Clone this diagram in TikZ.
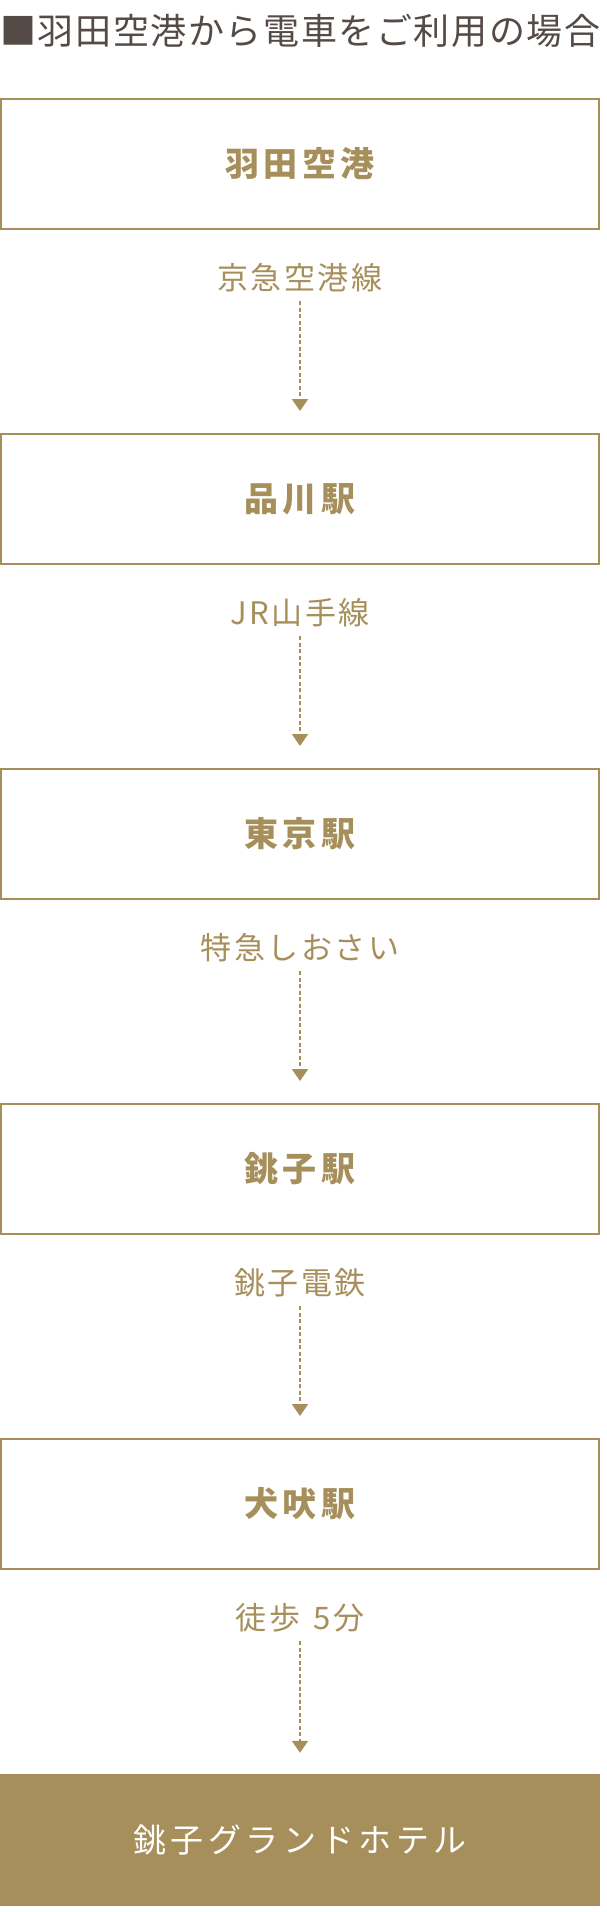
\documentclass[tikz,border=0pt]{standalone}
\usepackage{fontspec}
\usetikzlibrary{arrows.meta}
\newfontfamily\ttlfont{Noto Sans CJK JP}[LetterSpace=4.5]
\newfontfamily\rtefont{Noto Sans CJK JP}[LetterSpace=8]
\newfontfamily\stnfont{Noto Sans CJK JP}[LetterSpace=12]
\newfontfamily\htlfont{Noto Sans CJK JP}[LetterSpace=14]
\definecolor{gold}{RGB}{166,143,91}
\definecolor{ttlcol}{RGB}{84,74,70}
\tikzset{
  stationbox/.style={draw=gold, line width=2pt, minimum width=598pt, minimum height=130pt,
    inner sep=0pt, text=gold, font=\stnfont\bfseries\fontsize{34pt}{34pt}\selectfont,
    text height=29.9pt, text depth=4.1pt},
  hotelbox/.style={fill=gold, draw=none, minimum width=600pt, minimum height=132pt,
    inner sep=0pt, text=white, font=\htlfont\fontsize{33pt}{33pt}\selectfont,
    text height=29pt, text depth=4pt},
  routelabel/.style={inner sep=0pt, text=gold, font=\rtefont\fontsize{31pt}{31pt}\selectfont,
    text height=27.3pt, text depth=3.7pt},
  conn/.style={draw=gold, line width=2pt, dash pattern=on 4pt off 2.5pt,
    -{Triangle[width=16pt,length=12pt]}},
}
\begin{document}
\begin{tikzpicture}[x=1pt,y=-1pt]
\useasboundingbox (0,0) rectangle (606,1912);
\node[anchor=base west, inner sep=0pt, text=ttlcol, font=\ttlfont\fontsize{36pt}{36pt}\selectfont] (title) at (0,44) {■羽田空港から電車をご利用の場合};
\node[stationbox] (s0) at (300,164) {羽田空港};
\node[stationbox] (s1) at (300,499) {品川駅};
\node[stationbox] (s2) at (300,834) {東京駅};
\node[stationbox] (s3) at (300,1169) {銚子駅};
\node[stationbox] (s4) at (300,1504) {犬吠駅};
\node[hotelbox] (s5) at (300,1840) {銚子グランドホテル};
\node[routelabel] (r0) at (300,278) {京急空港線};
\node[routelabel] (r1) at (300,613) {JR山手線};
\node[routelabel] (r2) at (300,948) {特急しおさい};
\node[routelabel] (r3) at (300,1283) {銚子電鉄};
\node[routelabel] (r4) at (300,1618) {徒歩\hspace{4pt} 5分};
\draw[conn] ([yshift=-7.5pt]r0.south) -- ([yshift=22pt]s1.north);
\draw[conn] ([yshift=-7.5pt]r1.south) -- ([yshift=22pt]s2.north);
\draw[conn] ([yshift=-7.5pt]r2.south) -- ([yshift=22pt]s3.north);
\draw[conn] ([yshift=-7.5pt]r3.south) -- ([yshift=22pt]s4.north);
\draw[conn] ([yshift=-7.5pt]r4.south) -- ([yshift=21pt]s5.north);
\end{tikzpicture}
\end{document}
